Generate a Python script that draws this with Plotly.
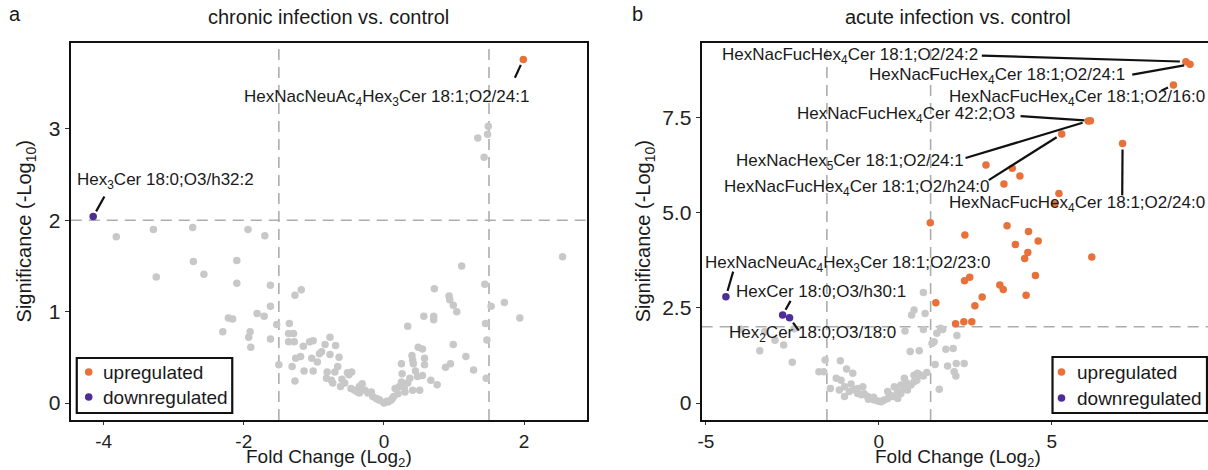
import plotly.graph_objects as go

W, H = 1208, 470
FONT = "Liberation Sans"
TXT = "#1a1a1a"
GREY = "#c8c8c8"
UP = "#e8713a"
DOWN = "#4f2d96"

# ---------------- chronic infection vs. control ----------------
chronic_fc = [
    -3.82, -3.29, -2.73, -1.94, -1.70, -3.25, -2.72, -2.57, -2.10, -2.10,
    -1.62, -1.62, -1.27, -1.18, -2.22, -2.16, -2.30, -1.91, -1.93, -1.90,
    -1.81, -1.71, -1.62, -1.53, -1.50, -1.35, -1.36, -1.29, -1.36, -1.28,
    -1.15, -1.06, -1.01, -0.84, -0.77, -0.69, -0.92, -0.89, -0.77, -0.64,
    -1.26, -1.19, -1.03, -1.31, -1.27, -1.14, -1.01, -0.81, -0.70, -0.52,
    -0.46, -0.50, -0.82, -0.75, -0.73, -0.62, -0.56, -0.47, -0.42, -0.35,
    -0.31, -0.35, -0.27, -0.23, -0.18, -0.16, -0.11, -0.06, 0.00, 0.06,
    0.10, 0.14, 0.20, 0.16, 0.22, 0.25, 0.26, 0.25, 0.29, 0.34,
    0.37, 0.41, 0.40, 0.41, 0.42, 0.48, 0.51, 0.55, 0.49, 0.55,
    0.58, 0.58, 0.34, 0.57, 0.71, 0.71, 0.72, 0.67, 0.76, 0.88,
    0.95, 0.93, 0.94, 0.99, 1.04, 0.99, 1.11, 1.17, 1.28, 1.44,
    1.45, 1.47, 1.46, 1.53, 1.72, 1.94, 2.55, 1.34, 1.48, 1.49,
    1.43, -0.60, -0.38, -0.08, 0.30, 0.45, -0.95, -0.66, 0.04, 0.12,
]
chronic_sig = [
    1.82, 1.90, 1.92, 1.90, 1.83, 1.38, 1.55, 1.41, 1.56, 1.31,
    1.29, 1.06, 1.18, 1.24, 0.93, 0.92, 0.78, 0.78, 0.72, 0.61,
    0.98, 0.95, 0.70, 0.86, 0.42, 0.87, 0.76, 0.76, 0.67, 0.67,
    0.62, 0.67, 0.68, 0.64, 0.72, 0.63, 0.54, 0.56, 0.53, 0.50,
    0.49, 0.51, 0.49, 0.40, 0.24, 0.35, 0.35, 0.34, 0.34, 0.33,
    0.34, 0.31, 0.27, 0.25, 0.22, 0.18, 0.22, 0.16, 0.14, 0.18,
    0.21, 0.11, 0.14, 0.11, 0.12, 0.07, 0.05, 0.03, 0.00, 0.01,
    0.03, 0.07, 0.10, 0.16, 0.18, 0.23, 0.32, 0.43, 0.17, 0.22,
    0.27, 0.14, 0.52, 0.47, 0.43, 0.29, 0.14, 0.30, 0.61, 0.59,
    0.49, 0.42, 0.84, 0.95, 0.95, 0.91, 1.25, 0.25, 0.20, 0.39,
    0.43, 1.17, 1.13, 1.07, 1.00, 0.64, 1.50, 0.51, 0.36, 1.30,
    0.87, 0.69, 0.27, 1.06, 1.10, 0.93, 1.60, 2.90, 2.94, 3.03,
    2.69, 0.26, 0.12, 0.04, 0.12, 0.35, 0.45, 0.40, 0.02, 0.05,
]
chronic_up_fc = [1.99]
chronic_up_sig = [3.76]
chronic_up_names = ["HexNacNeuAc<sub>4</sub>Hex<sub>3</sub>Cer 18:1;O2/24:1"]
chronic_down_fc = [-4.15]
chronic_down_sig = [2.04]
chronic_down_names = ["Hex<sub>3</sub>Cer 18:0;O3/h32:2"]

# ---------------- acute infection vs. control ----------------
acute_fc = [
    1.29, 1.02, 0.95, 1.34, 1.68, 2.26, 1.79, 0.76, 0.91, 1.17,
    1.60, 1.94, 2.15, 1.63, 1.99, 2.24, 2.47, 2.18, 2.23, 1.39,
    1.29, 1.12, 1.02, 1.75, -3.44, -2.50, -2.75, -3.30, -3.99, -1.73,
    -1.55, -1.59, -1.11, -1.23, -1.40, -1.09, -0.99, -0.80, -0.61, -0.46,
    -0.61, -0.42, -0.32, -0.22, -0.13, -0.03, 0.06, 0.16, 0.26, 0.40,
    0.54, 0.64, 0.74, 0.83, 0.93, 1.10, 1.22, 1.02, 0.45, 0.64,
    0.80, -0.75, -0.93, 0.26, -0.85, -0.99, -1.14, 0.74, 1.29, 1.85,
    1.54, -2.45, -3.00, -0.50, -0.30, 0.10, 0.35, -0.70, 0.55, -0.15,
]
acute_sig = [
    2.90, 2.44, 2.31, 2.35, 1.83, 1.77, 1.96, 1.89, 1.35, 1.37,
    1.61, 1.41, 1.43, 1.01, 0.97, 1.04, 1.04, 0.82, 0.71, 0.80,
    0.71, 0.78, 0.56, 0.36, 1.37, 1.07, 1.52, 1.87, 1.94, 0.82,
    1.13, 0.82, 1.11, 0.65, 0.38, 0.60, 0.43, 0.50, 0.38, 0.43,
    0.25, 0.24, 0.17, 0.12, 0.08, 0.05, 0.03, 0.08, 0.12, 0.17,
    0.30, 0.25, 0.38, 0.34, 0.47, 0.60, 0.73, 0.73, 0.43, 0.47,
    0.53, 0.78, 0.89, 0.30, 0.30, 0.17, 0.34, 0.65, 1.93, 1.93,
    1.56, 1.95, 1.65, 0.22, 0.10, 0.05, 0.20, 0.35, 0.12, 0.15,
]
acute_up_fc = [
    8.88, 9.00, 8.52, 6.12, 6.06, 5.29, 7.05, 3.10, 3.86, 4.08,
    3.62, 5.21, 5.09, 1.49, 2.49, 3.71, 4.33, 4.61, 3.95, 4.31,
    4.22, 4.53, 2.48, 2.63, 3.50, 3.60, 4.26, 2.99, 2.78, 1.65,
    2.22, 2.46, 2.69, 6.16,
]
acute_up_sig = [
    8.96, 8.89, 8.35, 7.41, 7.40, 7.06, 6.81, 6.25, 6.16, 5.96,
    5.75, 5.50, 5.23, 4.73, 4.41, 4.65, 4.50, 4.25, 4.16, 3.95,
    3.79, 3.35, 3.21, 3.30, 3.10, 2.98, 2.83, 2.78, 2.55, 2.63,
    2.08, 2.13, 2.13, 3.83,
]
acute_up_names = [
    "HexNacFucHex<sub>4</sub>Cer 18:1;O2/24:2",
    "HexNacFucHex<sub>4</sub>Cer 18:1;O2/24:1",
    "HexNacFucHex<sub>4</sub>Cer 18:1;O2/16:0",
    "HexNacFucHex<sub>4</sub>Cer 42:2;O3",
    "HexNacHex<sub>5</sub>Cer 18:1;O2/24:1",
    "HexNacFucHex<sub>4</sub>Cer 18:1;O2/h24:0",
    "HexNacFucHex<sub>4</sub>Cer 18:1;O2/24:0",
]
acute_down_fc = [-4.42, -2.78, -2.58]
acute_down_sig = [2.79, 2.31, 2.24]
acute_down_names = [
    "HexNacNeuAc<sub>4</sub>Hex<sub>3</sub>Cer 18:1;O2/23:0",
    "HexCer 18:0;O3/h30:1",
    "Hex<sub>2</sub>Cer 18:0;O3/18:0",
]

FC_CUT = 1.5
SIG_CUT = 2.0
LEGEND_LABELS = ["upregulated", "downregulated"]

# Label placement: text centre and start of the leader segment (axis units)
label_layout_a = {
    chronic_up_names[0]: ((0.03, 3.34), (1.87, 3.56)),
    chronic_down_names[0]: ((-3.12, 2.43), (-3.99, 2.26)),
}
label_layout_b = {
    acute_up_names[0]: ((-0.83, 9.12), (2.98, 9.12)),
    acute_up_names[1]: ((3.42, 8.58), (7.33, 8.62)),
    acute_up_names[2]: ((5.74, 8.00), (8.17, 8.20)),
    acute_up_names[3]: ((0.80, 7.56), (4.10, 7.53)),
    acute_up_names[4]: ((-0.83, 6.33), (2.51, 6.43)),
    acute_up_names[5]: ((-0.64, 5.65), (3.18, 5.85)),
    acute_up_names[6]: ((5.74, 5.23), (7.04, 5.45)),
    acute_down_names[0]: ((-0.90, 3.65), (-4.21, 3.45)),
    acute_down_names[1]: ((-1.66, 2.92), (-2.55, 2.68)),
    acute_down_names[2]: ((-1.91, 1.82), (-2.31, 1.90)),
}

# Panel geometry (pixels); panel b's frame runs past the right page edge
PA = dict(x0=67, x1=585, y0=43, y1=420, xr=[-4.47, 2.90], yr=[-0.186, 3.94],
          cx=326, ytitle_x=22, letter_x=11,
          legend=dict(x0=73, x1=229, y0=358, y1=413, dot_x=85, text_x=97, rows=[372, 397]))
PB = dict(x0=700, x1=W, y0=43, y1=420, xr=[-5.12, 9.52], yr=[-0.446, 9.45],
          cx=957, ytitle_x=643, letter_x=636,
          legend=dict(x0=1052, x1=1207, y0=357, y1=413, dot_x=1061, text_x=1075, rows=[372, 398]))


def px_scale(p):
    sx = (p["x1"] - p["x0"]) / (p["xr"][1] - p["xr"][0])
    sy = (p["y1"] - p["y0"]) / (p["yr"][1] - p["yr"][0])
    return sx, sy


def fx_(px):
    return px / W


def fy_(py):
    return 1 - py / H


fig = go.Figure()

panels = [
    ("x", "y", chronic_fc, chronic_sig, chronic_up_fc, chronic_up_sig,
     chronic_up_names, chronic_down_fc, chronic_down_sig, chronic_down_names,
     label_layout_a, PA, "chronic infection vs. control", "a"),
    ("x2", "y2", acute_fc, acute_sig, acute_up_fc, acute_up_sig,
     acute_up_names, acute_down_fc, acute_down_sig, acute_down_names,
     label_layout_b, PB, "acute infection vs. control", "b"),
]

shapes = []
annotations = []


def text(x, y, s, size, **kw):
    d = dict(x=x, y=y, xref="paper", yref="paper", text=s, showarrow=False,
             xanchor="center", yanchor="middle",
             font=dict(size=size, color=TXT, family=FONT))
    d.update(kw)
    annotations.append(d)


for (xa, ya, gfc, gsig, ufc, usig, unames, dfc, dsig, dnames, lay, P,
     title, letter) in panels:
    fig.add_trace(go.Scatter(
        x=gfc, y=gsig, mode="markers", xaxis=xa, yaxis=ya, showlegend=False,
        marker=dict(color=GREY, size=7.5, line=dict(width=0)), hoverinfo="skip"))
    fig.add_trace(go.Scatter(
        x=dfc, y=dsig, mode="markers", xaxis=xa, yaxis=ya, name=LEGEND_LABELS[1],
        showlegend=False, marker=dict(color=DOWN, size=7.5, line=dict(width=0))))
    fig.add_trace(go.Scatter(
        x=ufc, y=usig, mode="markers", xaxis=xa, yaxis=ya, name=LEGEND_LABELS[0],
        showlegend=False, marker=dict(color=UP, size=7.5, line=dict(width=0))))

    # significance / fold-change cut-offs
    dash = dict(color="#adadad", width=1.6, dash="11px,7px")
    for v in (-FC_CUT, FC_CUT):
        shapes.append(dict(type="line", xref=xa, yref=ya + " domain", x0=v, x1=v,
                           y0=0, y1=1, line=dash, layer="below"))
    shapes.append(dict(type="line", xref=xa + " domain", yref=ya, x0=0, x1=1,
                       y0=SIG_CUT, y1=SIG_CUT, line=dash, layer="below"))

    # repelled labels with leader segments
    sx, sy = px_scale(P)
    named = list(zip(unames, ufc, usig)) + list(zip(dnames, dfc, dsig))
    for name, fx, fy in named:
        if name not in lay:
            continue
        (tx, ty), (sx0, sy0) = lay[name]
        dxp, dyp = (fx - sx0) * sx, (fy - sy0) * sy
        dist = (dxp ** 2 + dyp ** 2) ** 0.5
        k = max(0.0, (dist - 6) / dist)
        ex, ey = sx0 + (fx - sx0) * k, sy0 + (fy - sy0) * k
        shapes.append(dict(type="line", xref=xa, yref=ya, x0=sx0, y0=sy0,
                           x1=ex, y1=ey, line=dict(color="#111111", width=2.2)))
        annotations.append(dict(x=tx, y=ty, xref=xa, yref=ya, text=name,
                                showarrow=False, xanchor="center", yanchor="middle",
                                font=dict(size=17, color=TXT, family=FONT)))

    # titles and panel letters
    text(fx_(P["cx"]), fy_(17), title, 20)
    text(fx_(P["letter_x"]), fy_(14), letter, 20)
    text(fx_(P["cx"]), fy_(458), "Fold Change (Log<sub>2</sub>)", 19)
    text(fx_(P["ytitle_x"]), fy_((P["y0"] + P["y1"]) / 2),
         "Significance (-Log<sub>10</sub>)", 20, textangle=-90)

    # legend box
    L = P["legend"]
    shapes.append(dict(type="rect", xref="paper", yref="paper",
                       x0=fx_(L["x0"]), x1=fx_(L["x1"]), y0=fy_(L["y1"]), y1=fy_(L["y0"]),
                       line=dict(color="#111111", width=2.2), fillcolor="white"))
    for lab, col, ry in zip(LEGEND_LABELS, [UP, DOWN], L["rows"]):
        shapes.append(dict(type="circle", xref="paper", yref="paper",
                           xsizemode="pixel", ysizemode="pixel",
                           xanchor=fx_(L["dot_x"]), yanchor=fy_(ry),
                           x0=-3.8, x1=3.8, y0=-3.8, y1=3.8,
                           fillcolor=col, line=dict(width=0)))
        text(fx_(L["text_x"]), fy_(ry), lab, 19, xanchor="left")

axis_common = dict(showgrid=False, zeroline=False, showline=True, linecolor="#111111",
                   linewidth=2.2, ticks="outside", tickwidth=1, tickcolor="#333333")
yfont = dict(size=21, color="#222222", family=FONT)
xfont = dict(size=19, color="#222222", family=FONT)

fig.update_layout(
    width=W, height=H, margin=dict(l=0, r=0, t=0, b=0),
    paper_bgcolor="white", plot_bgcolor="white",
    font=dict(family=FONT, color=TXT), showlegend=False,
    xaxis=dict(domain=[fx_(PA["x0"]), fx_(PA["x1"])], range=PA["xr"],
               tickvals=[-4, -2, 0, 2], ticktext=["-4", "-2", "0", "2"],
               anchor="y", mirror=True, ticklen=3, tickfont=xfont, **axis_common),
    yaxis=dict(domain=[fy_(PA["y1"]), fy_(PA["y0"])], range=PA["yr"],
               tickvals=[0, 1, 2, 3], ticktext=["0", "1", "2", "3"],
               anchor="x", mirror=True, ticklen=4, tickfont=yfont, **axis_common),
    xaxis2=dict(domain=[fx_(PB["x0"]), 1.0], range=PB["xr"],
                tickvals=[-5, 0, 5], ticktext=["-5", "0", "5"],
                anchor="y2", mirror=True, ticklen=3, tickfont=xfont, **axis_common),
    yaxis2=dict(domain=[fy_(PB["y1"]), fy_(PB["y0"])], range=PB["yr"],
                tickvals=[0, 2.5, 5, 7.5], ticktext=["0", "2.5", "5.0", "7.5"],
                anchor="x2", mirror=False, ticklen=4, tickfont=yfont, **axis_common),
    shapes=shapes, annotations=annotations,
)

fig.write_html("out.html")
